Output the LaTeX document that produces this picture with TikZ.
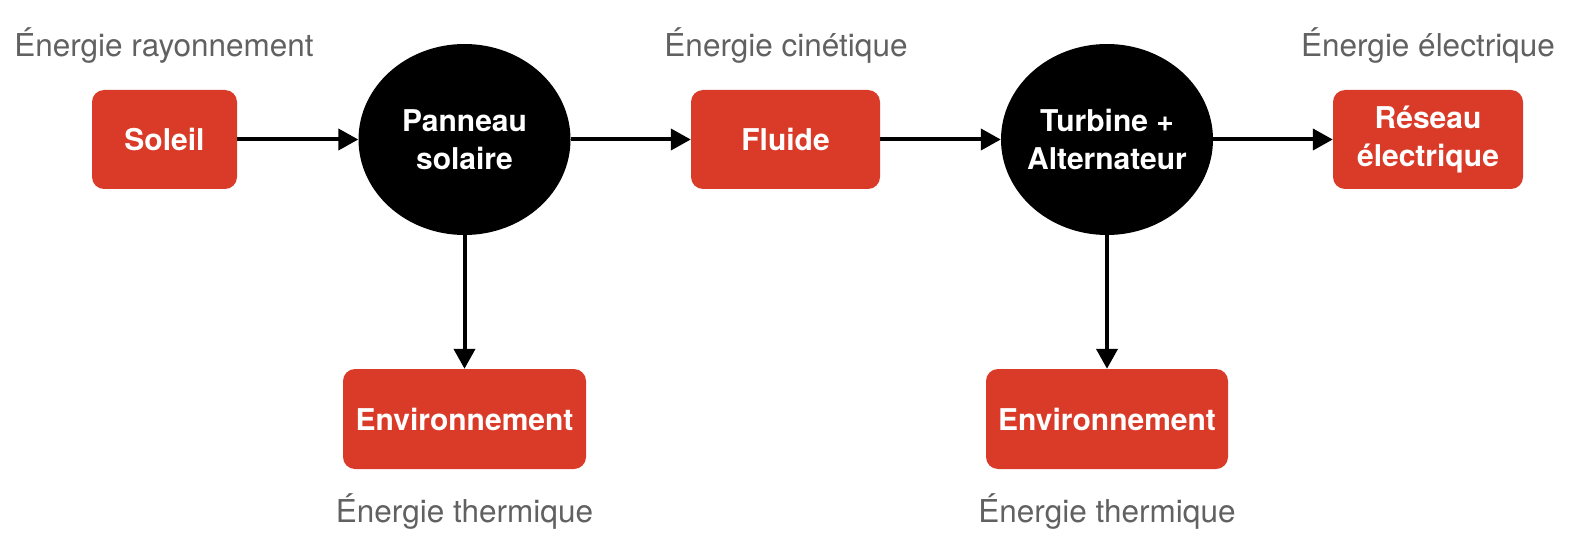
\documentclass[tikz,border=0pt]{standalone}
\usepackage{fontspec}
\setmainfont{TeX Gyre Heros}
\usetikzlibrary{arrows.meta,shapes.geometric}
\definecolor{boxred}{HTML}{DA3B28}
\definecolor{labgray}{HTML}{616161}
\tikzset{
  redbox/.style={draw=none,fill=boxred,rounded corners=12pt,minimum height=99pt,inner sep=0pt,
    text=white,font=\fontsize{30}{38}\selectfont\bfseries,align=center},
  blackell/.style={ellipse,draw=none,fill=black,minimum width=212pt,minimum height=191pt,inner sep=-30pt,
    text=white,font=\fontsize{30}{38}\selectfont\bfseries,align=center},
  lab/.style={text=labgray,font=\fontsize{31.5}{36}\selectfont,anchor=base,inner sep=0pt},
  flow/.style={line width=4pt,-{Triangle[length=20pt,width=21pt]}}
}
\begin{document}
\begin{tikzpicture}[x=1pt,y=-1pt]
\useasboundingbox (0,0) rectangle (1573,548);
\node[redbox,minimum width=145pt] (sol) at (164.5,139.5) {Soleil};
\node[blackell] (pan) at (464.5,139.5) {Panneau\\solaire};
\node[redbox,minimum width=189pt] (flu) at (785.5,139.5) {Fluide};
\node[blackell] (tur) at (1107,139.5) {Turbine +\\Alternateur};
\node[redbox,minimum width=190pt] (res) at (1428,139.5) {Réseau\\électrique};
\node[redbox,minimum width=243pt,minimum height=100pt] (env1) at (464.5,419) {Environnement};
\node[redbox,minimum width=242pt,minimum height=100pt] (env2) at (1107,419) {Environnement};
\node[lab] (l1) at (164,57) {Énergie rayonnement};
\node[lab] (l2) at (786,57) {Énergie cinétique};
\node[lab] (l3) at (1428,57) {Énergie électrique};
\node[lab] (l4) at (464.5,522) {Énergie thermique};
\node[lab] (l5) at (1107,522) {Énergie thermique};
\draw[flow] (sol) -- (pan);
\draw[flow] (pan) -- (flu);
\draw[flow] (flu) -- (tur);
\draw[flow] (tur) -- (res);
\draw[flow] (pan) -- (env1);
\draw[flow] (tur) -- (env2);
\end{tikzpicture}
\end{document}
